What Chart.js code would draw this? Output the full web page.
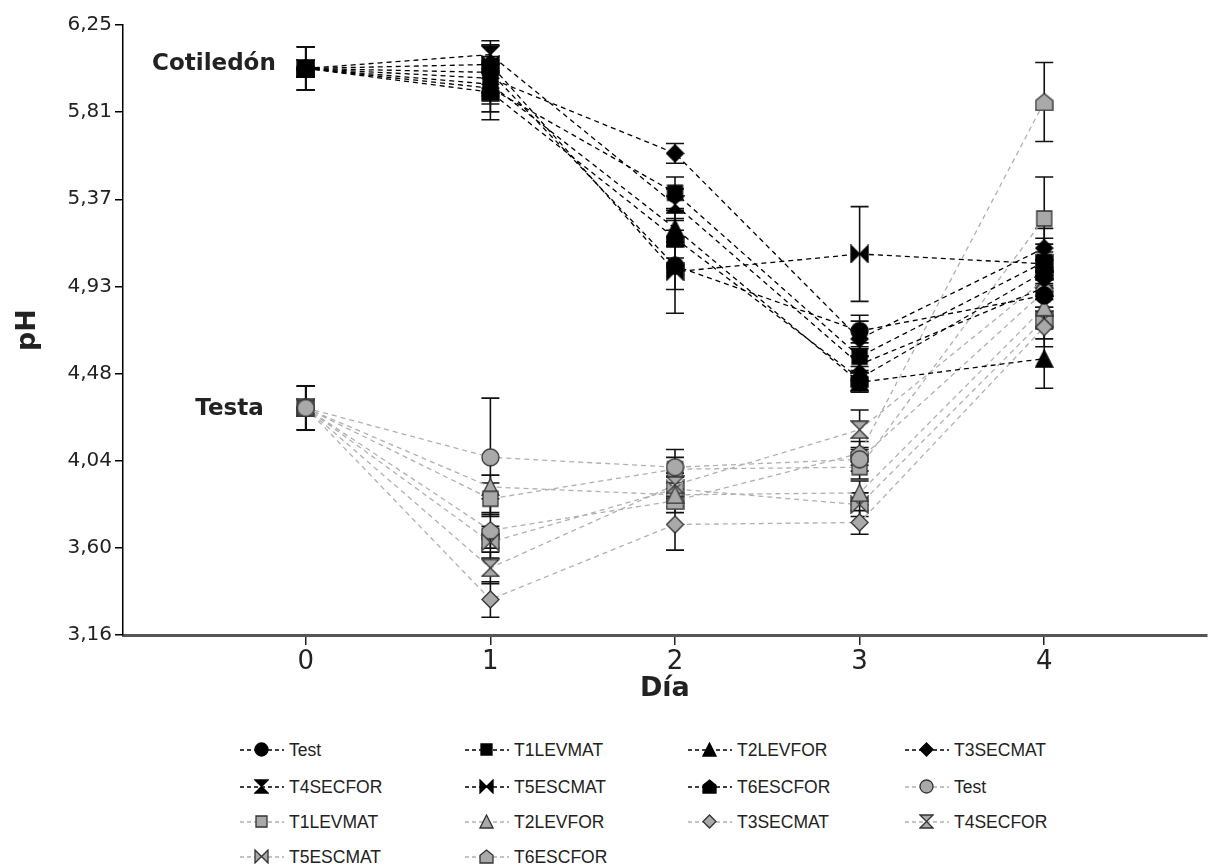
<!DOCTYPE html>
<html>
<head>
<meta charset="utf-8">
<script src="https://cdn.jsdelivr.net/npm/chart.js@4.4.1/dist/chart.umd.min.js"></script>
<style>
  html, body { margin: 0; background: #fff; overflow: hidden; }
  #wrap { position: relative; width: 1217px; height: 866px; }
  #box { position: absolute; left: 0; top: 0; width: 1217px; height: 720px; }
  .item { position: absolute; display: flex; align-items: center; height: 20px;
          font-family: "Liberation Sans", Arial, sans-serif; font-size: 17.5px; color: #222; }
  .item canvas { margin-right: 5px; }
</style>
</head>
<body>
<div id="wrap">
  <div id="box"><canvas id="ph-chart"></canvas></div>
  <div id="legend"></div>
</div>
<script>
const days = [0, 1, 2, 3, 4];
const seriesNames = ['Test', 'T1LEVMAT', 'T2LEVFOR', 'T3SECMAT', 'T4SECFOR', 'T5ESCMAT', 'T6ESCFOR'];
const seriesShapes = ['circle', 'square', 'triangle', 'diamond', 'hourglass', 'bowtie', 'house'];
const yTickLabels = ['3,16', '3,60', '4,04', '4,48', '4,93', '5,37', '5,81', '6,25'];

// Cotiledón: one row per treatment, same order as seriesNames
const cotiledonPH = [
  [6.03, 6.01, 5.03, 4.70, 4.88],
  [6.03, 5.93, 5.40, 4.57, 5.05],
  [6.03, 5.95, 5.22, 4.44, 4.56],
  [6.03, 5.98, 5.60, 4.66, 5.12],
  [6.03, 6.10, 5.34, 4.53, 4.92],
  [6.03, 6.05, 5.00, 5.09, 5.04],
  [6.03, 5.91, 5.17, 4.46, 5.00]
];
const cotiledonErr = [
  [0.11, 0.08, 0.12, 0.08, 0.10],
  [0.11, 0.12, 0.08, 0.07, 0.12],
  [0.11, 0.10, 0.09, 0.05, 0.15],
  [0.11, 0.09, 0.05, 0.09, 0.10],
  [0.11, 0.07, 0.08, 0.08, 0.10],
  [0.11, 0.10, 0.21, 0.24, 0.10],
  [0.11, 0.14, 0.10, 0.06, 0.10]
];

// Testa
const testaPH = [
  [4.31, 4.06, 4.01, 4.05, 4.90],
  [4.31, 3.85, 4.00, 4.01, 5.27],
  [4.31, 3.91, 3.87, 3.88, 4.82],
  [4.31, 3.34, 3.72, 3.73, 4.72],
  [4.31, 3.50, 3.92, 4.20, 4.96],
  [4.31, 3.63, 3.90, 3.82, 4.76],
  [4.31, 3.69, 3.84, 4.08, 5.86]
];
const testaErr = [
  [0.11, 0.30, 0.05, 0.06, 0.10],
  [0.11, 0.08, 0.10, 0.06, 0.21],
  [0.11, 0.06, 0.06, 0.06, 0.10],
  [0.11, 0.09, 0.13, 0.06, 0.10],
  [0.11, 0.08, 0.06, 0.10, 0.10],
  [0.11, 0.08, 0.06, 0.06, 0.10],
  [0.11, 0.09, 0.06, 0.06, 0.20]
];

const yMin = 3.16, yMax = 6.25;

function drawShape(ctx, shape, s, fill, stroke) {
  const h = s / 2, m = 1;
  ctx.beginPath();
  if (shape === 'circle') {
    ctx.arc(h, h, h - m, 0, Math.PI * 2);
  } else if (shape === 'square') {
    ctx.rect(m + 1, m + 1, s - 2 * m - 2, s - 2 * m - 2);
  } else if (shape === 'triangle') {
    ctx.moveTo(h, m); ctx.lineTo(s - m, s - m); ctx.lineTo(m, s - m);
  } else if (shape === 'diamond') {
    ctx.moveTo(h, m); ctx.lineTo(s - m, h); ctx.lineTo(h, s - m); ctx.lineTo(m, h);
  } else if (shape === 'hourglass') {
    ctx.moveTo(m, m); ctx.lineTo(s - m, m); ctx.lineTo(h, h);
    ctx.lineTo(s - m, s - m); ctx.lineTo(m, s - m); ctx.lineTo(h, h);
  } else if (shape === 'bowtie') {
    ctx.moveTo(m, m); ctx.lineTo(h, h); ctx.lineTo(s - m, m);
    ctx.lineTo(s - m, s - m); ctx.lineTo(h, h); ctx.lineTo(m, s - m);
  } else if (shape === 'house') {
    ctx.moveTo(h, m); ctx.lineTo(s - m, s * 0.42); ctx.lineTo(s - m, s - m);
    ctx.lineTo(m, s - m); ctx.lineTo(m, s * 0.42);
  }
  ctx.closePath();
  ctx.fillStyle = fill;
  ctx.fill();
  ctx.lineWidth = 1.3;
  ctx.strokeStyle = stroke;
  ctx.stroke();
}

function markerCanvas(shape, size, fill, stroke) {
  const c = document.createElement('canvas');
  c.width = size; c.height = size;
  drawShape(c.getContext('2d'), shape, size, fill, stroke);
  return c;
}

const black = { line: '#000', fill: '#000', stroke: '#000' };
const grey = { line: '#b0b0b0', fill: '#a9a9a9', stroke: '#333' };

function buildSets(values, errs, look) {
  return values.map((row, i) => ({
    label: seriesNames[i],
    data: row.map((v, j) => ({ x: days[j], y: v })),
    errors: errs[i],
    borderColor: look.line,
    borderWidth: 1.3,
    borderDash: [5, 4],
    pointStyle: markerCanvas(seriesShapes[i], 19, look.fill, look.stroke),
    pointRadius: 9,
    tension: 0
  }));
}

const datasets = buildSets(cotiledonPH, cotiledonErr, black)
  .concat(buildSets(testaPH, testaErr, grey));

const errorBars = {
  id: 'errorBars',
  beforeDatasetsDraw(chart) {
    const { ctx, scales: { x, y } } = chart;
    ctx.save();
    ctx.strokeStyle = '#111';
    ctx.lineWidth = 1.6;
    chart.data.datasets.forEach(ds => {
      ds.data.forEach((p, i) => {
        const px = x.getPixelForValue(p.x);
        const top = y.getPixelForValue(p.y + ds.errors[i]);
        const bot = y.getPixelForValue(p.y - ds.errors[i]);
        ctx.beginPath();
        ctx.moveTo(px, top); ctx.lineTo(px, bot);
        ctx.moveTo(px - 9, top); ctx.lineTo(px + 9, top);
        ctx.moveTo(px - 9, bot); ctx.lineTo(px + 9, bot);
        ctx.stroke();
      });
    });
    ctx.restore();
  }
};

const groupLabels = {
  id: 'groupLabels',
  afterDatasetsDraw(chart) {
    const { ctx, scales: { x, y } } = chart;
    ctx.save();
    ctx.font = 'bold 23px "DejaVu Sans"';
    ctx.fillStyle = '#222';
    ctx.textAlign = 'right';
    ctx.textBaseline = 'middle';
    ctx.fillText('Cotiledón', x.getPixelForValue(0) - 30, y.getPixelForValue(cotiledonPH[0][0]) - 4);
    ctx.fillText('Testa', x.getPixelForValue(0) - 42, y.getPixelForValue(testaPH[0][0]) + 1);
    ctx.restore();
  }
};

var ctx = document.getElementById('ph-chart').getContext('2d');
window.phChart = new Chart(ctx, {
  type: 'line',
  data: { datasets: datasets },
  plugins: [errorBars, groupLabels],
  options: {
    responsive: true,
    maintainAspectRatio: false,
    animation: false,
    layout: { padding: { top: 25, right: 0, left: 0, bottom: 0 } },
    plugins: { legend: { display: false }, tooltip: { enabled: false } },
    scales: {
      x: {
        type: 'linear',
        min: -0.99,
        max: 4.88,
        afterFit: s => { s.height = 85; },
        afterBuildTicks: s => { s.ticks = days.map(d => ({ value: d })); },
        border: { color: '#555', width: 3 },
        grid: { drawOnChartArea: false, color: '#222', tickLength: 10, lineWidth: 1.5 },
        ticks: { color: '#222', font: { family: 'DejaVu Sans', size: 26 }, padding: 2 },
        title: { display: true, text: 'Día', color: '#222',
                 font: { family: 'DejaVu Sans', size: 27, weight: 'bold' }, padding: { bottom: 15 } }
      },
      y: {
        type: 'linear',
        min: yMin,
        max: yMax,
        afterFit: s => { s.width = 123; },
        afterBuildTicks: s => {
          const step = (yMax - yMin) / (yTickLabels.length - 1);
          s.ticks = yTickLabels.map((t, k) => ({ value: yMin + k * step }));
        },
        border: { color: '#000', width: 1.5 },
        grid: { drawOnChartArea: false, color: '#000', tickLength: 8, lineWidth: 1.5 },
        ticks: {
          color: '#222',
          font: { family: 'DejaVu Sans', size: 20 },
          padding: 3,
          callback: (v, i) => yTickLabels[i]
        },
        title: { display: true, text: 'pH', color: '#222',
                 font: { family: 'DejaVu Sans', size: 27, weight: 'bold' }, padding: { top: 12 } }
      }
    }
  }
});

// legend, laid out in 4 columns like the original
const legendCols = [240, 465, 688, 905];
const legendRows = [750, 787, 822, 857];
const legendBox = document.getElementById('legend');
datasets.forEach((ds, k) => {
  const isGrey = k >= 7;
  const look = isGrey ? grey : black;
  const item = document.createElement('div');
  item.className = 'item';
  item.style.left = legendCols[k % 4] + 'px';
  item.style.top = (legendRows[Math.floor(k / 4)] - 10) + 'px';
  const c = document.createElement('canvas');
  c.width = 44; c.height = 20;
  const g = c.getContext('2d');
  g.strokeStyle = look.line;
  g.lineWidth = 1.3;
  g.setLineDash([4, 3]);
  g.beginPath(); g.moveTo(0, 10); g.lineTo(44, 10); g.stroke();
  g.setLineDash([]);
  g.drawImage(markerCanvas(seriesShapes[k % 7], 15, look.fill, look.stroke), 14, 2);
  item.appendChild(c);
  item.appendChild(document.createTextNode(ds.label));
  legendBox.appendChild(item);
});
</script>
</body>
</html>
